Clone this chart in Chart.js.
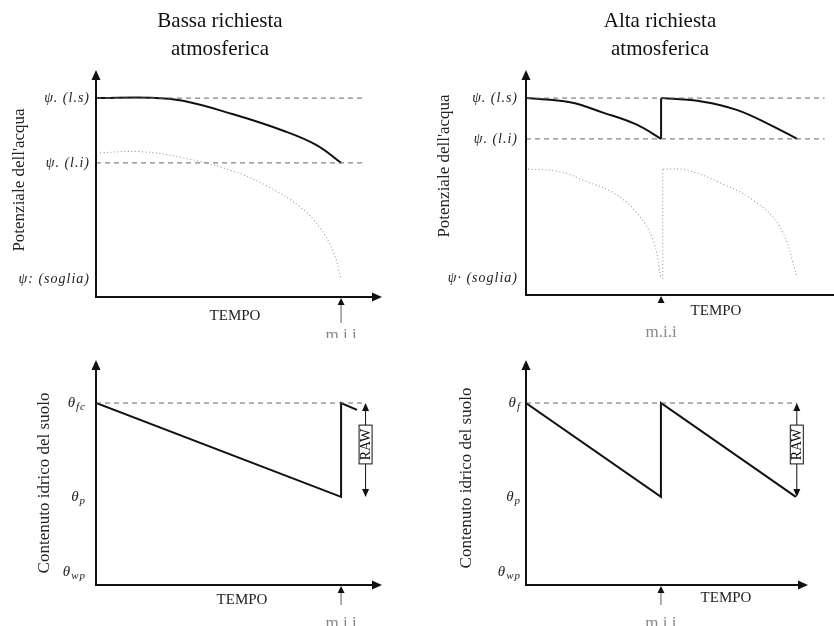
<!DOCTYPE html>
<html>
<head>
<meta charset="utf-8">
<script src="https://cdn.jsdelivr.net/npm/chart.js@4/dist/chart.umd.min.js"></script>
<style>
  html, body { margin: 0; padding: 0; background: #fff; }
  #wrap { position: relative; width: 834px; height: 626px; overflow: hidden; }
  #wrap canvas { position: absolute; }
</style>
</head>
<body>
<div id="wrap">
  <canvas id="tl" width="420" height="338" style="left:0;top:0"></canvas>
  <canvas id="tr" width="414" height="338" style="left:420px;top:0"></canvas>
  <canvas id="bl" width="420" height="288" style="left:0;top:338px"></canvas>
  <canvas id="br" width="414" height="288" style="left:420px;top:338px"></canvas>
</div>
<script>
// --- Bassa richiesta: potenziale ---
const tlTickValues = [88.4, 59.6, 8];
const tlTickLabels = ['ψ. (l.s)', 'ψ. (l.i)', 'ψ: (soglia)'];
const tlFogliaT   = [0, 2.2, 3.55, 5.6, 7.67, 9.0, 10];
const tlFogliaPsi = [88.4, 88.6, 87.2, 81.2, 73.8, 67.5, 59.6];
const tlRadiceT   = [0.16, 1.8, 3.55, 5.6, 7.0, 8.3, 9.1, 9.7, 10];
const tlRadicePsi = [64.1, 64.6, 61.9, 55.9, 49.2, 40.3, 31.3, 19.6, 8];

// --- Alta richiesta: potenziale ---
const trTickValues = [88.3, 70.0, 7.6];
const trTickLabels = ['ψ. (l.s)', 'ψ. (l.i)', 'ψ· (soglia)'];
const trFoglia1T   = [0, 3.26, 5.7, 8.2, 10];
const trFoglia1Psi = [88.3, 86.4, 81.8, 76.4, 70.0];
const trFoglia2T   = [10, 13.1, 15.6, 18.1, 20.07];
const trFoglia2Psi = [88.3, 86.7, 83.0, 76.2, 70.0];
const trRadice1T   = [0.15, 2.5, 4.5, 6.5, 8.2, 9.4, 10];
const trRadice1Psi = [56.5, 55.3, 50.8, 45.7, 36.8, 24.7, 7.2];
const trRadice2T   = [10.15, 11.9, 14.4, 16.8, 18.8, 20.1];
const trRadice2Psi = [56.5, 56.0, 50.2, 42.6, 30.5, 7.6];

// --- Contenuto idrico del suolo ---
const blTickValues = [81.6, 39.5, 5.8];
const blTickLabels = ['θ_fc', 'θ_p', 'θ_wp'];
const blSuoloT     = [0, 10, 10, 10.65];
const blSuoloTheta = [81.6, 39.5, 81.6, 78.5];
const brTickValues = [81.6, 39.5, 5.8];
const brTickLabels = ['θ_f', 'θ_p', 'θ_wp'];
const brSuoloT     = [0, 10, 10, 20];
const brSuoloTheta = [81.6, 39.5, 81.6, 39.5];

const SERIF = '"Liberation Serif", "Times New Roman", serif';

function punti(ts, vs) {
  return ts.map((t, i) => ({ x: t, y: vs[i] }));
}

function livello(v, t1) {
  return {
    data: [{ x: 0, y: v }, { x: t1, y: v }],
    borderColor: '#666', borderWidth: 1, borderDash: [5, 4], tension: 0
  };
}

function solida(data, curva) {
  return { data: data, borderColor: '#111', borderWidth: 2, tension: curva ? 0.4 : 0 };
}

function punteggiata(data) {
  return { data: data, borderColor: '#999', borderWidth: 1.1, borderDash: [1, 2.5], tension: 0.4 };
}

function freccia(ctx, x, y, dir, w, h) {
  ctx.beginPath();
  if (dir === 'up') { ctx.moveTo(x, y); ctx.lineTo(x - w / 2, y + h); ctx.lineTo(x + w / 2, y + h); }
  if (dir === 'down') { ctx.moveTo(x, y); ctx.lineTo(x - w / 2, y - h); ctx.lineTo(x + w / 2, y - h); }
  if (dir === 'right') { ctx.moveTo(x, y); ctx.lineTo(x - h, y - w / 2); ctx.lineTo(x - h, y + w / 2); }
  ctx.closePath();
  ctx.fill();
}

function etichetta(ctx, testo, xDestra, y, size) {
  const [main, sub] = testo.split('_');
  ctx.letterSpacing = '1px';
  ctx.font = `italic ${size}px ${SERIF}`;
  const w1 = ctx.measureText(main).width;
  let w2 = 0;
  if (sub) {
    ctx.font = `italic ${Math.round(size * 0.7)}px ${SERIF}`;
    w2 = ctx.measureText(sub).width;
  }
  const x0 = xDestra - w1 - w2;
  ctx.textAlign = 'left';
  ctx.textBaseline = 'middle';
  ctx.font = `italic ${size}px ${SERIF}`;
  ctx.fillText(main, x0, y);
  if (sub) {
    ctx.font = `italic ${Math.round(size * 0.7)}px ${SERIF}`;
    ctx.fillText(sub, x0 + w1, y + size * 0.3);
  }
  ctx.letterSpacing = '0px';
}

// disegna assi, etichette, frecce e titoli
const schema = {
  id: 'schema',
  afterDatasetsDraw(chart, args, o) {
    const ctx = chart.ctx;
    const { left, right, top, bottom } = chart.chartArea;
    const xs = chart.scales.x, ys = chart.scales.y;
    ctx.save();
    ctx.fillStyle = '#111';
    ctx.strokeStyle = '#111';

    // assi
    ctx.lineWidth = 2;
    ctx.beginPath();
    ctx.moveTo(left, top + 4);
    ctx.lineTo(left, bottom);
    ctx.lineTo(o.frecciaX ? right - 6 : right, bottom);
    ctx.stroke();
    freccia(ctx, left, top - 2, 'up', 9, 10);
    if (o.frecciaX) freccia(ctx, right, bottom, 'right', 9, 10);

    // etichette asse y
    ctx.fillStyle = '#222';
    o.valori.forEach((v, i) => {
      etichetta(ctx, o.etichette[i], left - o.gap, ys.getPixelForValue(v), o.sizeTick);
    });

    // titolo asse y
    ctx.save();
    ctx.translate(o.yTitolo[0], o.yTitolo[1]);
    ctx.rotate(-Math.PI / 2);
    ctx.font = `17px ${SERIF}`;
    ctx.textAlign = 'center';
    ctx.textBaseline = 'middle';
    ctx.fillText(o.yTesto, 0, 0);
    ctx.restore();

    // TEMPO
    ctx.font = `15px ${SERIF}`;
    ctx.textAlign = 'center';
    ctx.textBaseline = 'middle';
    ctx.fillText('TEMPO', o.xTitolo[0], o.xTitolo[1]);

    // m.i.i (etichetta tagliata dal bordo del riquadro, come nell'originale)
    const xm = xs.getPixelForValue(10);
    ctx.strokeStyle = '#777';
    ctx.lineWidth = 1.2;
    if (o.miiLen > 0) {
      ctx.beginPath();
      ctx.moveTo(xm, bottom + 4);
      ctx.lineTo(xm, bottom + o.miiLen);
      ctx.stroke();
    }
    ctx.fillStyle = '#111';
    freccia(ctx, xm, bottom + 1, 'up', 7, 7);
    ctx.fillStyle = '#888';
    ctx.font = `17px ${SERIF}`;
    ctx.textBaseline = 'alphabetic';
    ctx.fillText('m.i.i', xm, chart.height + o.miiDy);

    // RAW
    if (o.raw) {
      const xr = xs.getPixelForValue(o.raw[0]);
      const y1 = ys.getPixelForValue(o.raw[1]);
      const y2 = ys.getPixelForValue(o.raw[2]);
      ctx.strokeStyle = '#111';
      ctx.fillStyle = '#111';
      ctx.lineWidth = 1;
      ctx.beginPath();
      ctx.moveTo(xr, y1 + 4);
      ctx.lineTo(xr, y2 - 4);
      ctx.stroke();
      freccia(ctx, xr, y1, 'up', 7, 8);
      freccia(ctx, xr, y2, 'down', 7, 8);
      const b1 = ys.getPixelForValue(o.rawBox[1]);
      const b2 = ys.getPixelForValue(o.rawBox[0]);
      ctx.fillStyle = '#fff';
      ctx.fillRect(xr - 6.5, b1, 13, b2 - b1);
      ctx.strokeRect(xr - 6.5, b1, 13, b2 - b1);
      ctx.save();
      ctx.translate(xr + 0.5, (b1 + b2) / 2);
      ctx.rotate(-Math.PI / 2);
      ctx.fillStyle = '#111';
      ctx.font = `14px ${SERIF}`;
      ctx.textAlign = 'center';
      ctx.textBaseline = 'middle';
      ctx.fillText('RAW', 0, 0);
      ctx.restore();
    }

    // titolo del pannello
    if (o.titolo) {
      ctx.fillStyle = '#111';
      ctx.font = `21px ${SERIF}`;
      ctx.textAlign = 'center';
      ctx.textBaseline = 'alphabetic';
      ctx.fillText(o.titolo[0], o.titoloX, 27);
      ctx.fillText(o.titolo[1], o.titoloX, 55);
    }
    ctx.restore();
  }
};

function pannello(id, datasets, xMax, padding, opzioni) {
  new Chart(document.getElementById(id), {
    type: 'line',
    data: { datasets: datasets.map(d => Object.assign({ pointRadius: 0, fill: false }, d)) },
    options: {
      responsive: false,
      animation: false,
      layout: { padding: padding },
      scales: {
        x: { type: 'linear', display: false, min: 0, max: xMax },
        y: { type: 'linear', display: false, min: 0, max: 100 }
      },
      plugins: { legend: { display: false }, tooltip: { enabled: false }, schema: opzioni }
    },
    plugins: [schema]
  });
}

pannello('tl', [
  livello(tlTickValues[0], 11.0),
  livello(tlTickValues[1], 11.0),
  punteggiata(punti(tlRadiceT, tlRadicePsi)),
  solida(punti(tlFogliaT, tlFogliaPsi), true)
], 11.67, { left: 96, right: 38, top: 72, bottom: 41 }, {
  valori: tlTickValues, etichette: tlTickLabels, gap: 6, sizeTick: 14,
  yTesto: "Potenziale dell'acqua", yTitolo: [20, 180], xTitolo: [235, 316],
  frecciaX: true, miiLen: 26, miiDy: 2,
  titolo: ['Bassa richiesta', 'atmosferica'], titoloX: 220
});

pannello('tr', [
  livello(trTickValues[0], 22.1),
  livello(trTickValues[1], 22.1),
  punteggiata(punti(trRadice1T, trRadice1Psi)),
  Object.assign(punteggiata([{ x: 10.12, y: 7.2 }, { x: 10.12, y: 56.5 }]), { tension: 0 }),
  punteggiata(punti(trRadice2T, trRadice2Psi)),
  solida(punti(trFoglia1T, trFoglia1Psi), true),
  solida([{ x: 10, y: trFoglia1Psi[4] }, { x: 10, y: trFoglia2Psi[0] }], false),
  solida(punti(trFoglia2T, trFoglia2Psi), true)
], 22.8, { left: 106, right: 0, top: 72, bottom: 43 }, {
  valori: trTickValues, etichette: trTickLabels, gap: 8, sizeTick: 14,
  yTesto: "Potenziale dell'acqua", yTitolo: [25, 166], xTitolo: [296, 311],
  frecciaX: false, miiLen: 0, miiDy: -1,
  titolo: ['Alta richiesta', 'atmosferica'], titoloX: 240
});

pannello('bl', [
  livello(blTickValues[0], 11.0),
  solida(punti(blSuoloT, blSuoloTheta), false)
], 11.67, { left: 96, right: 38, top: 24, bottom: 41 }, {
  valori: blTickValues, etichette: blTickLabels, gap: 10, sizeTick: 15,
  yTesto: 'Contenuto idrico del suolo', yTitolo: [45, 145], xTitolo: [242, 262],
  frecciaX: true, miiLen: 20, miiDy: 2,
  raw: [11.0, blTickValues[0], blTickValues[1]], rawBox: [54.3, 71.7]
});

pannello('br', [
  livello(brTickValues[0], 20.07),
  solida(punti(brSuoloT, brSuoloTheta), false)
], 20.9, { left: 106, right: 26, top: 24, bottom: 41 }, {
  valori: brTickValues, etichette: brTickLabels, gap: 5, sizeTick: 15,
  yTesto: 'Contenuto idrico del suolo', yTitolo: [47, 140], xTitolo: [306, 260],
  frecciaX: true, miiLen: 20, miiDy: 2,
  raw: [20.07, brTickValues[0], brTickValues[1]], rawBox: [54.3, 71.7]
});
</script>
</body>
</html>
